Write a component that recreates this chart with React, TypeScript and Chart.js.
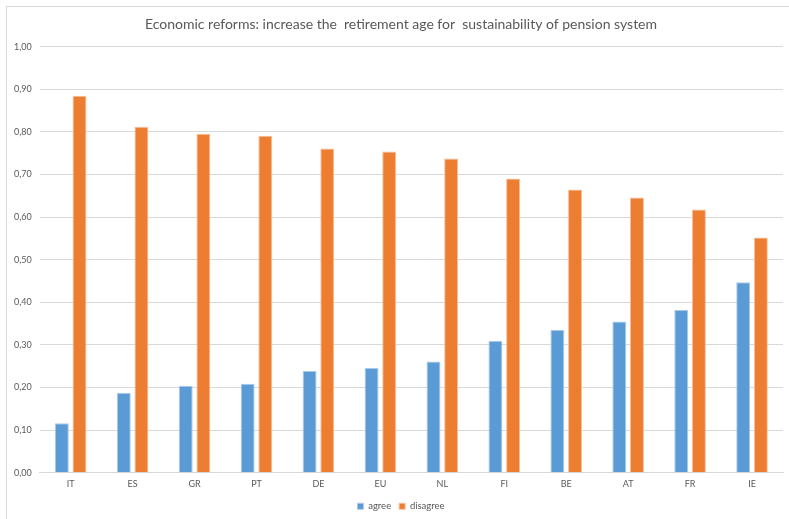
import React, { useEffect, useRef } from "react";
import { Chart, registerables } from "chart.js";

Chart.register(...registerables);

const TITLE = "Economic reforms: increase the  retirement age for  sustainability of pension system";
const categories = ["IT", "ES", "GR", "PT", "DE", "EU", "NL", "FI", "BE", "AT", "FR", "IE"];
const agree = [0.116, 0.188, 0.204, 0.209, 0.239, 0.246, 0.261, 0.309, 0.335, 0.355, 0.382, 0.447];
const disagree = [0.885, 0.812, 0.796, 0.791, 0.761, 0.754, 0.738, 0.691, 0.665, 0.646, 0.618, 0.552];

export default function App() {
  const ref = useRef<HTMLCanvasElement>(null);
  useEffect(() => {
    document.body.style.margin = "0";
    const chart = new Chart(ref.current!, {
      type: "bar",
      data: {
        labels: categories,
        datasets: [
          { label: "agree", data: agree, backgroundColor: "#5B9BD5", borderColor: "#A9C9EA", borderWidth: 1, categoryPercentage: 0.57, barPercentage: 0.79 },
          { label: "disagree", data: disagree, backgroundColor: "#ED7D31", borderColor: "#F6BE98", borderWidth: 1, categoryPercentage: 0.57, barPercentage: 0.79 },
        ],
      },
      options: {
        animation: false,
        responsive: false,
        layout: { padding: { top: 16, left: 0, right: 0, bottom: 0 } },
        plugins: {
          title: {
            display: true,
            text: TITLE,
            color: "#595959",
            font: { family: "Lato", size: 14, weight: "normal" },
            padding: { top: 0, bottom: 14 },
          },
          legend: {
            position: "bottom",
            labels: {
              color: "#595959",
              font: { family: "Lato", size: 9.5 },
              boxWidth: 6,
              boxHeight: 6,
              padding: 8,
            },
          },
          tooltip: { enabled: false },
        },
        scales: {
          x: {
            grid: { display: false, drawTicks: false },
            border: { color: "#D9D9D9" },
            ticks: { color: "#595959", font: { family: "Lato", size: 9 }, padding: 6 },
            afterFit: (s: any) => { s.height -= 2; },
          },
          y: {
            min: 0,
            max: 1,
            grid: { color: "#D9D9D9", drawTicks: false },
            border: { display: false },
            ticks: {
              stepSize: 0.1,
              color: "#595959",
              font: { family: "Lato", size: 9 },
              padding: 8,
              callback: (v: any) => Number(v).toFixed(2).replace(".", ","),
            },
          },
          yRight: {
            position: "right",
            min: 0,
            max: 1,
            grid: { display: false, drawTicks: false },
            border: { display: false },
            ticks: { display: false },
            afterFit: (s: any) => { s.width = 13; },
          },
        },
      },
    });
    return () => chart.destroy();
  }, []);
  return (
    <div style={{ position: "relative", width: 789, height: 519, overflow: "hidden", background: "#fff" }}>
      <div style={{ position: "absolute", left: 6, top: 6, width: 800, height: 530, borderLeft: "1px solid #D9D9D9", borderTop: "1px solid #D9D9D9" }} />
      <canvas ref={ref} width={790} height={521} style={{ position: "absolute", left: 6, top: 0 }} />
    </div>
  );
}
